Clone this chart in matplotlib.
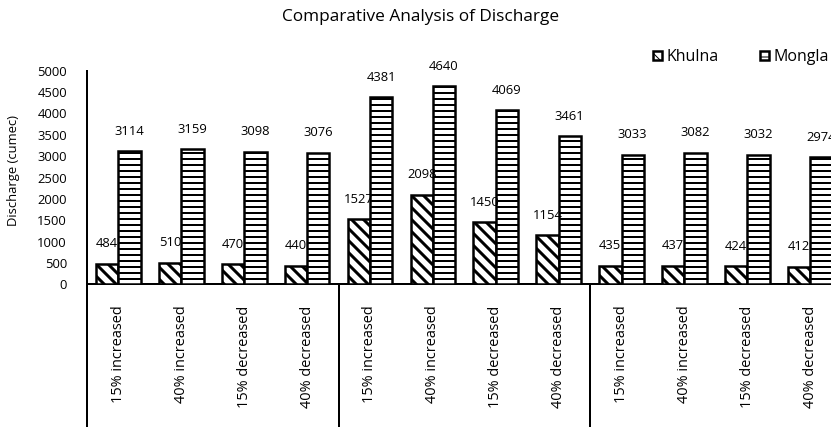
import matplotlib
matplotlib.use("Agg")
import matplotlib.pyplot as plt
import numpy as np
from matplotlib.transforms import blended_transform_factory

plt.rcParams['font.family'] = ['Open Sans', 'DejaVu Sans']
plt.rcParams['hatch.color'] = 'black'

# ---- data ----
scenarios = ["15% increased", "40% increased", "15% decreased", "40% decreased"] * 3
khulna = [484, 510, 470, 440, 1527, 2098, 1450, 1154, 435, 437, 424, 412]
mongla = [3114, 3159, 3098, 3076, 4381, 4640, 4069, 3461, 3033, 3082, 3032, 2974]
series_names = ["Khulna", "Mongla"]
group_size = 4
yticks = list(range(0, 5001, 500))
title = "Comparative Analysis of Discharge"
ylabel = "Discharge (cumec)"

# ---- figure ----
DPI = 72
W, H = 831, 427
fig = plt.figure(figsize=(W / DPI, H / DPI), dpi=DPI)
ax = fig.add_axes([87 / W, (H - 284.3) / H, 754.6 / W, 213.6 / H])

x = np.arange(len(scenarios))
bw = 0.355
with plt.rc_context({'hatch.linewidth': 3.0}):
    b1 = ax.bar(x - bw / 2, khulna, bw, facecolor='white', edgecolor='black',
                linewidth=2.5, hatch='\\\\', label=series_names[0], zorder=3)
with plt.rc_context({'hatch.linewidth': 2.0}):
    b2 = ax.bar(x + bw / 2, mongla, bw, facecolor='white', edgecolor='black',
                linewidth=2.5, hatch='--', label=series_names[1], zorder=3)

fs = 13
for bars, vals in ((b1, khulna), (b2, mongla)):
    for r, v in zip(bars, vals):
        ax.annotate(str(v), (r.get_x() + r.get_width() / 2, v),
                    xytext=(0, 20), textcoords='offset points',
                    ha='center', va='center', fontsize=fs, color='black',
                    zorder=4)

ax.set_xlim(-0.5, len(scenarios) - 0.5)
ax.set_ylim(0, 5000)
ax.set_yticks(yticks)
ax.set_yticklabels([str(t) for t in yticks], fontsize=fs)
ax.set_xticks(x)
ax.set_xticklabels(scenarios, rotation=90, fontsize=14.5, va='top', ha='center')
ax.tick_params(axis='y', length=0, pad=20)
ax.tick_params(axis='x', length=0, pad=21)

for s in ('top', 'right', 'left'):
    ax.spines[s].set_visible(False)
ax.spines['bottom'].set_linewidth(2.0)
ax.spines['bottom'].set_color('black')

# vertical axis line and group separators reaching down through the label area
tr = blended_transform_factory(ax.transData, ax.transAxes)
bottom = -(H - 284.3) / 213.6 - 0.05
ax.plot([-0.5, -0.5], [1.0, bottom], color='black', lw=2.0,
        transform=tr, clip_on=False, zorder=5)
for g in range(group_size, len(scenarios) + 1, group_size):
    xs = g - 0.5
    ax.plot([xs, xs], [0, bottom], color='black', lw=2.0,
            transform=tr, clip_on=False, zorder=5)

ax.set_ylabel(ylabel, fontsize=fs)
ax.yaxis.set_label_coords((20 - 87) / 754.6, (284.3 - 171) / 213.6)

fig.text(421 / W, 1 - 17 / H, title, ha='center', va='center', fontsize=17.3)

fig.legend(handles=[b1, b2], labels=series_names, loc='center left',
           bbox_to_anchor=(653 / W, 1 - 57 / H), ncol=2, frameon=False,
           fontsize=16, handlelength=0.55, handleheight=0.55,
           handletextpad=0.3, columnspacing=2.6, borderaxespad=0,
           borderpad=0)

fig.savefig("out.png", dpi=DPI)
